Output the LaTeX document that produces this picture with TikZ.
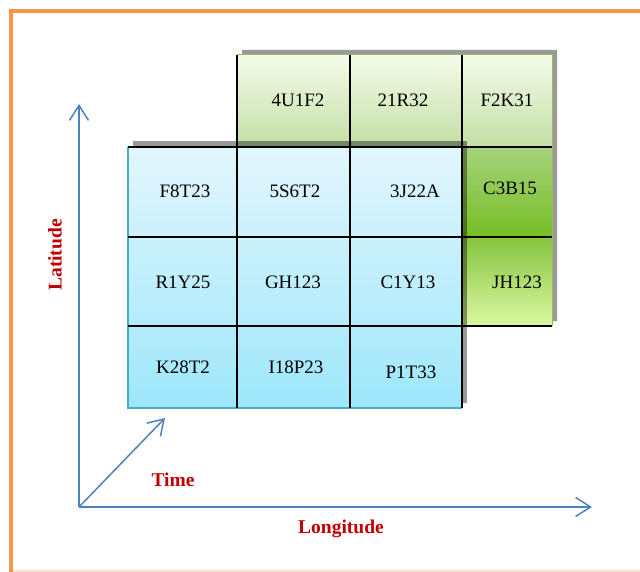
\documentclass[tikz,border=0pt]{standalone}
\usepackage{fontspec}
\setmainfont{Liberation Serif}
\usetikzlibrary{arrows.meta}
\definecolor{frameorange}{HTML}{F79646}
\definecolor{axblue}{HTML}{4F81BD}
\definecolor{axred}{HTML}{C00000}
\definecolor{gshadow}{HTML}{999999}
\definecolor{gborder}{HTML}{9BBB59}
\definecolor{bborder}{HTML}{4BACC6}
\definecolor{gat}{HTML}{F4FBE8}
\definecolor{gab}{HTML}{C3DFA6}
\definecolor{gbt}{HTML}{A6D27A}
\definecolor{gbb}{HTML}{76BE26}
\definecolor{gct}{HTML}{84C43E}
\definecolor{gcb}{HTML}{DCF7A2}
\definecolor{bt}{HTML}{E2F6FD}
\definecolor{bb}{HTML}{9DE7FB}
\begin{document}
\begin{tikzpicture}[x=1pt,y=-1pt,
  cell/.style={font=\fontsize{19}{22}\selectfont, inner sep=0pt},
  axlabel/.style={font=\fontsize{19.5}{22}\selectfont\bfseries, text=axred, inner sep=0pt},
  axis/.style={draw=axblue, line width=1.5pt, -{Straight Barb[length=15pt,width=19pt,line width=1.5pt]}},
  gridline/.style={line width=1.2pt, draw=black}]
\useasboundingbox (0,0) rectangle (640,572);
% frame
\draw[draw=frameorange, line width=4pt] (11,572) -- (11,11) -- (640,11);
\draw[draw=frameorange!30, line width=1.5pt] (13,571) -- (640,571);
% green shadow
\fill[gshadow] (242,50) -- (557,50) -- (557,321) -- (467,321) -- (467,142) -- (242,142) -- cycle;
% green fills
\shade[top color=gat, bottom color=gab] (237,55) rectangle (552,147);
\shade[top color=gbt, bottom color=gbb] (462,147) rectangle (552,237);
\shade[top color=gct, bottom color=gcb] (462,237) rectangle (552,326);
\draw[draw=gborder, line width=1pt] (237,55) -- (552,55) -- (552,326);
% blue shadow
\fill[black, opacity=0.4] (133,141) rectangle (467,403);
% blue fill
\shade[top color=bt, bottom color=bb] (128,147) rectangle (462,408);
\draw[draw=bborder, line width=1.5pt] (128,147) -- (128,408) -- (462,408);
% grid
\draw[gridline] (237,55) -- (237,408);
\draw[gridline] (350,55) -- (350,408);
\draw[gridline] (462,55) -- (462,408);
\draw[gridline] (128,147) -- (552,147);
\draw[gridline] (128,237) -- (552,237);
\draw[gridline] (128,326) -- (552,326);
% labels
\node[cell] (c11) at (298,100) {4U1F2};
\node[cell] (c12) at (403,100) {21R32};
\node[cell] (c13) at (507,100) {F2K31};
\node[cell] (c21) at (185,191) {F8T23};
\node[cell] (c22) at (295,191) {5S6T2};
\node[cell] (c23) at (415,191) {3J22A};
\node[cell] (c24) at (510,188) {C3B15};
\node[cell] (c31) at (183,282) {R1Y25};
\node[cell] (c32) at (293,282) {GH123};
\node[cell] (c33) at (408,282) {C1Y13};
\node[cell] (c34) at (517,282) {JH123};
\node[cell] (c41) at (183,367) {K28T2};
\node[cell] (c42) at (296,367) {I18P23};
\node[cell] (c43) at (411,372) {P1T33};
% axes
\coordinate (O) at (79,507);
\coordinate (lat) at (79,104);
\coordinate (lon) at (592,507);
\coordinate (tim) at (165,418);
\draw[axis] (O) -- (lat);
\draw[axis] (O) -- (lon);
\draw[axis] (O) -- (tim);
\node[axlabel, rotate=90] (latl) at (55,255) {Latitude};
\node[axlabel] (timl) at (173,480) {Time};
\node[axlabel] (lonl) at (341,529) {Longitude};
\end{tikzpicture}
\end{document}
